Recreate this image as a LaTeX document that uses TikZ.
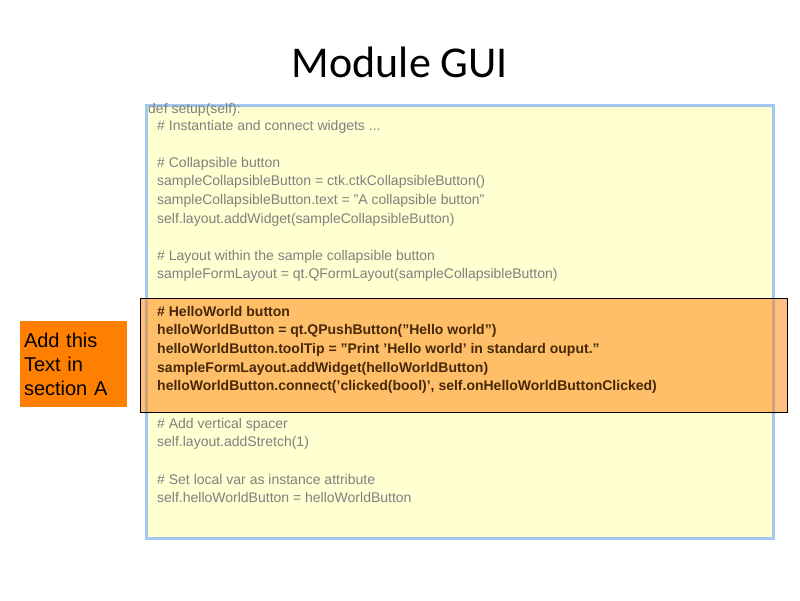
\documentclass[tikz,border=0pt]{standalone}
\usepackage{fontspec}
\setmainfont{Liberation Sans}
\newfontfamily\titlefont{Carlito}
\definecolor{codegray}{RGB}{128,128,128}
\definecolor{paleyellow}{RGB}{255,255,210}
\definecolor{paleblue}{RGB}{160,200,240}
\definecolor{slideorange}{RGB}{255,128,0}
\definecolor{darkbrown}{RGB}{70,40,10}
\begin{document}
\begin{tikzpicture}[x=1pt, y=-1pt,
    code/.style = {anchor=north west, inner sep=0pt, align=left, text=codegray,
                   font=\fontsize{14}{18.6}\selectfont},
    hot/.style = {code, text=darkbrown, font=\fontsize{14}{18.6}\selectfont\bfseries}]
    \useasboundingbox (0,0) rectangle (800,600);
    \node (title) at (400,62) {\titlefont\fontsize{44}{48}\selectfont Module GUI};
    \draw[paleblue, line width=3pt, fill=paleyellow] (146,105) rectangle (773,538);
    \node[code] (def) at (148,103) {def setup(self):};
    \node[code] (c1) at (157,120) {\# Instantiate and connect widgets ...};
    \node[code] (c2) at (157,157) {\# Collapsible button\\
        sampleCollapsibleButton = ctk.ctkCollapsibleButton()\\
        sampleCollapsibleButton.text = "A collapsible button"\\
        self.layout.addWidget(sampleCollapsibleButton)};
    \node[code] (c3) at (157,250) {\# Layout within the sample collapsible button\\
        sampleFormLayout = qt.QFormLayout(sampleCollapsibleButton)};
    \draw[black, fill=slideorange, fill opacity=0.5] (140,298) rectangle (787,412);
    \node[hot] (hello) at (157,306) {\# HelloWorld button\\
        helloWorldButton = qt.QPushButton("Hello world")\\
        helloWorldButton.toolTip = "Print 'Hello world' in standard ouput."\\
        sampleFormLayout.addWidget(helloWorldButton)\\
        helloWorldButton.connect('clicked(bool)', self.onHelloWorldButtonClicked)};
    \node[code] (c4) at (157,418) {\# Add vertical spacer\\
        self.layout.addStretch(1)};
    \node[code] (c5) at (157,474) {\# Set local var as instance attribute\\
        self.helloWorldButton = helloWorldButton};
    \node[fill=slideorange, minimum width=107pt, minimum height=86pt, inner sep=0pt,
          align=left, text width=99pt, font=\fontsize{20}{24}\selectfont]
        (note) at (73.5,364) {Add this\\Text in\\section A};
\end{tikzpicture}
\end{document}
